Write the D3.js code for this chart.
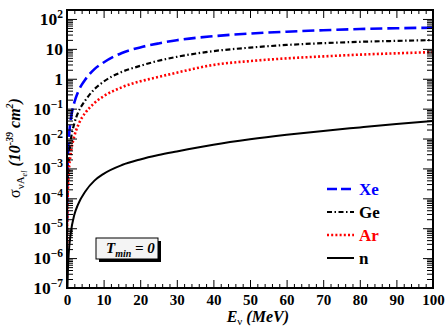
<!DOCTYPE html>
<html>
<head>
<meta charset="utf-8">
<script src="https://cdn.jsdelivr.net/npm/d3@7"></script>
<style>
  body { margin: 0; background: #fff; }
  text { font-family: "Liberation Serif", "Times New Roman", serif; font-weight: bold; }
</style>
</head>
<body>
<svg id="chart"></svg>
<script>
// energies (MeV) and cross sections (10^-39 cm^2)
const energy = [0.02, 0.05, 0.1, 0.2, 0.5, 1, 2, 3, 4, 5, 7.5, 10, 15, 20, 25, 30, 40, 50, 60, 70, 80, 90, 100];
const xeValues = [1.6e-5, 1e-4, 4e-4, 1.6e-3, 0.01, 0.04, 0.16, 0.36, 0.62, 0.95, 2.1, 3.5, 7.3, 11.2, 15.2, 19.5, 26.5, 32.5, 37.5, 42, 46, 49, 51];
const geValues = [3.2e-6, 2e-5, 8e-5, 3.2e-4, 2e-3, 8e-3, 0.032, 0.072, 0.125, 0.19, 0.45, 0.8, 1.7, 2.7, 4.0, 5.4, 8.4, 11.0, 13.5, 15.5, 17.2, 18.5, 19.6];
const arValues = [1.2e-6, 7.5e-6, 3e-5, 1.2e-4, 7.5e-4, 3e-3, 0.012, 0.027, 0.048, 0.072, 0.155, 0.26, 0.52, 0.82, 1.15, 1.6, 2.9, 3.9, 4.8, 5.6, 6.4, 7.1, 7.8];
const nEnergy = [0.12, 0.25, 0.5, 1, 2, 3, 5, 7.5, 10, 15, 20, 25, 30, 40, 50, 60, 70, 80, 90, 100];
const nValues = [1e-7, 4e-7, 1.6e-6, 6.5e-6, 2.8e-5, 6.2e-5, 1.7e-4, 3.9e-4, 6.6e-4, 1.3e-3, 2.0e-3, 2.8e-3, 3.7e-3, 6.2e-3, 9.4e-3, 1.33e-2, 1.8e-2, 2.35e-2, 3.05e-2, 3.9e-2];

const seriesNames = ["Xe", "Ge", "Ar", "n"];
const xTicks = [0, 10, 20, 30, 40, 50, 60, 70, 80, 90, 100];
const yDecades = [-7, -6, -5, -4, -3, -2, -1, 0, 1, 2];

const width = 447, height = 329;
const plotLeft = 67, plotRight = 433, plotTop = 10, plotBottom = 288;

const svg = d3.select("#chart").attr("width", width).attr("height", height);

const x = d3.scaleLinear().domain([0, 100]).range([plotLeft, plotRight]);
const y = d3.scaleLog().domain([1e-7, Math.pow(10, 2.3)]).range([plotBottom, plotTop]);

// clip
svg.append("clipPath").attr("id", "clip")
  .append("rect")
  .attr("x", plotLeft).attr("y", plotTop)
  .attr("width", plotRight - plotLeft).attr("height", plotBottom - plotTop);

// curves
const styles = {
  Xe: { color: "#0000ff", dash: "12 5", width: 2.6 },
  Ge: { color: "#000000", dash: "5 2.5 1.5 2.5", width: 2.2 },
  Ar: { color: "#ff0000", dash: "2 2.2", width: 2.6 },
  n: { color: "#000000", dash: null, width: 2 }
};

const seriesData = {
  Xe: energy.map((e, i) => [e, xeValues[i]]),
  Ge: energy.map((e, i) => [e, geValues[i]]),
  Ar: energy.map((e, i) => [e, arValues[i]]),
  n: nEnergy.map((e, i) => [e, nValues[i]])
};

const line = d3.line()
  .x(d => x(d[0]))
  .y(d => y(d[1]))
  .curve(d3.curveMonotoneX);

const plot = svg.append("g").attr("clip-path", "url(#clip)");
seriesNames.forEach(name => {
  const s = styles[name];
  plot.append("path")
    .attr("d", line(seriesData[name]))
    .attr("fill", "none")
    .attr("stroke", s.color)
    .attr("stroke-width", s.width)
    .attr("stroke-dasharray", s.dash);
});

// axes
const minorX = d3.range(0, 101, 2).filter(v => v % 10 !== 0);
const minorY = [];
yDecades.forEach(d => {
  for (let k = 2; k <= 9; k++) {
    const v = k * Math.pow(10, d);
    if (v <= y.domain()[1]) minorY.push(v);
  }
});

const styleAxis = g => {
  g.select(".domain").remove();
  g.selectAll("line").attr("stroke", "#000").attr("stroke-width", 1);
};

svg.append("g").attr("transform", `translate(0,${plotBottom})`)
  .call(d3.axisBottom(x).tickValues(xTicks).tickSize(-8).tickPadding(6))
  .call(styleAxis)
  .call(g => g.selectAll("text")
    .attr("font-size", 15)
    .attr("fill", "#000"));
svg.append("g").attr("transform", `translate(0,${plotBottom})`)
  .call(d3.axisBottom(x).tickValues(minorX).tickSize(-4).tickFormat(""))
  .call(styleAxis);
svg.append("g").attr("transform", `translate(0,${plotTop})`)
  .call(d3.axisTop(x).tickValues(xTicks).tickSize(-8).tickFormat(""))
  .call(styleAxis);
svg.append("g").attr("transform", `translate(0,${plotTop})`)
  .call(d3.axisTop(x).tickValues(minorX).tickSize(-4).tickFormat(""))
  .call(styleAxis);

const majorY = yDecades.map(d => Math.pow(10, d));
svg.append("g").attr("transform", `translate(${plotLeft},0)`)
  .call(d3.axisLeft(y).tickValues(majorY).tickSize(-10).tickFormat(""))
  .call(styleAxis);
svg.append("g").attr("transform", `translate(${plotLeft},0)`)
  .call(d3.axisLeft(y).tickValues(minorY).tickSize(-6).tickFormat(""))
  .call(styleAxis);
svg.append("g").attr("transform", `translate(${plotRight},0)`)
  .call(d3.axisRight(y).tickValues(majorY).tickSize(-10).tickFormat(""))
  .call(styleAxis);
svg.append("g").attr("transform", `translate(${plotRight},0)`)
  .call(d3.axisRight(y).tickValues(minorY).tickSize(-6).tickFormat(""))
  .call(styleAxis);

// y tick labels with superscripts
yDecades.forEach(d => {
  const t = svg.append("text")
    .attr("x", 63)
    .attr("y", y(Math.pow(10, d)) + 6)
    .attr("text-anchor", "end")
    .attr("font-size", 17.5);
  if (d === 0) {
    t.text("1");
  } else if (d === 1) {
    t.text("10");
  } else {
    t.append("tspan").text("10");
    t.append("tspan").attr("dy", -7).attr("font-size", 11.5)
      .text(d < 0 ? "\u2212" + (-d) : String(d));
  }
});

// frame
svg.append("rect")
  .attr("x", plotLeft).attr("y", plotTop)
  .attr("width", plotRight - plotLeft).attr("height", plotBottom - plotTop)
  .attr("fill", "none")
  .attr("stroke", "#000")
  .attr("stroke-width", 2);

// x axis title
const xTitle = svg.append("text")
  .attr("x", 289).attr("y", 322)
  .attr("text-anchor", "end")
  .attr("font-size", 16)
  .attr("font-style", "italic");
xTitle.append("tspan").text("E");
xTitle.append("tspan").attr("dy", 3).attr("font-size", 11).attr("font-style", "normal").attr("font-weight", "normal").text("\u03bd");
xTitle.append("tspan").attr("dy", -3).text(" (MeV)");

// y axis title
const yTitle = svg.append("text")
  .attr("transform", "translate(20,148) rotate(-90)")
  .attr("text-anchor", "middle")
  .attr("font-size", 16);
yTitle.append("tspan").attr("font-weight", "normal").text("\u03c3");
yTitle.append("tspan").attr("dy", 4).attr("font-size", 11).attr("font-weight", "normal").text("\u03bdA");
yTitle.append("tspan").attr("dy", 3).attr("font-size", 8).attr("font-style", "italic").attr("font-weight", "normal").text("el");
yTitle.append("tspan").attr("dy", -7).attr("font-style", "italic").text(" (10");
yTitle.append("tspan").attr("dy", -7).attr("font-size", 10).attr("font-style", "italic").text("-39");
yTitle.append("tspan").attr("dy", 7).attr("font-style", "italic").text(" cm");
yTitle.append("tspan").attr("dy", -7).attr("font-size", 10).attr("font-style", "italic").text("2");
yTitle.append("tspan").attr("dy", 7).attr("font-style", "italic").text(")");

// legend
const legendY = [189, 212, 235, 258];
const legend = svg.append("g");
seriesNames.forEach((name, i) => {
  const s = styles[name];
  legend.append("line")
    .attr("x1", 327).attr("x2", 354)
    .attr("y1", legendY[i]).attr("y2", legendY[i])
    .attr("stroke", s.color)
    .attr("stroke-width", s.width)
    .attr("stroke-dasharray", name === "Xe" ? "10 4" : s.dash);
  legend.append("text")
    .attr("x", 359).attr("y", legendY[i] + 6)
    .attr("font-size", 17)
    .attr("fill", s.color)
    .text(name);
});

// T_min box
svg.append("rect")
  .attr("x", 99).attr("y", 241).attr("width", 62).attr("height", 21)
  .attr("fill", "#000");
svg.append("rect")
  .attr("x", 96).attr("y", 238).attr("width", 62).attr("height", 21)
  .attr("fill", "#f4f4f4").attr("stroke", "#000").attr("stroke-width", 1);
const tText = svg.append("text")
  .attr("x", 106).attr("y", 253)
  .attr("font-size", 15)
  .attr("font-style", "italic");
tText.append("tspan").text("T");
tText.append("tspan").attr("dy", 4).attr("font-size", 10).text("min");
tText.append("tspan").attr("dy", -4).text(" = 0");
</script>
</body>
</html>
